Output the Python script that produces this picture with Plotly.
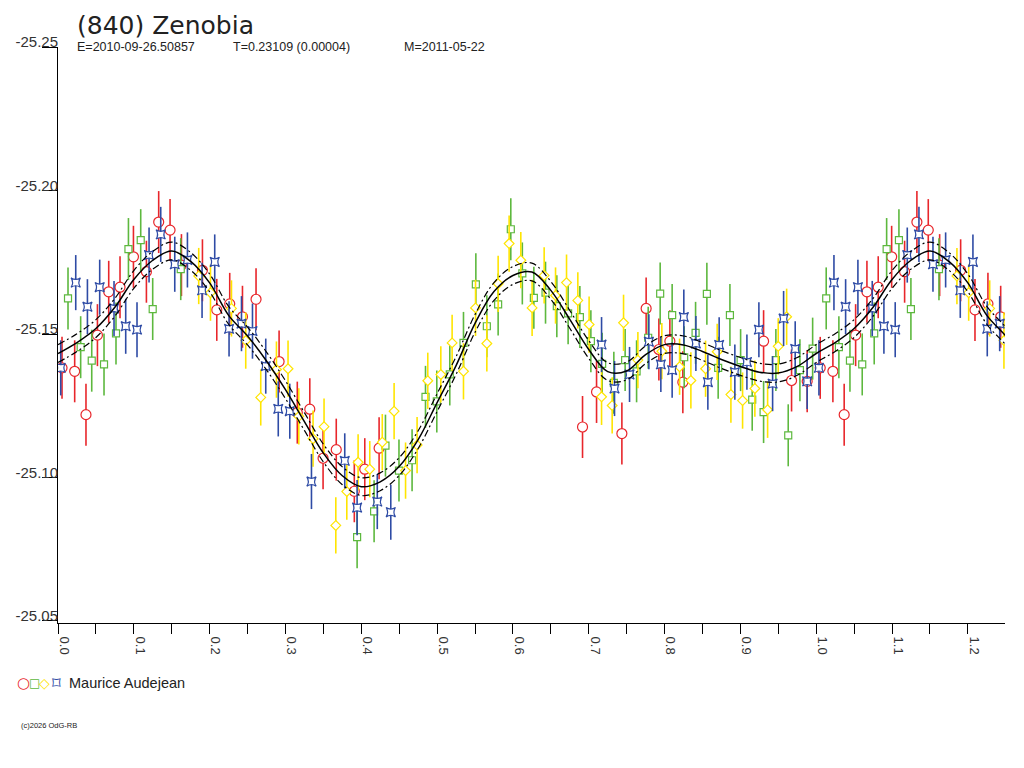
import plotly.graph_objects as go

# phase range shown (data from phase 0..0.25 is repeated after 1.0)
X_MAX = 1.249

# fitted lightcurve, every 0.025 in phase
CURVE_PHASE = [0.000, 0.025, 0.050, 0.075, 0.100, 0.125, 0.150, 0.175, 0.200, 0.225,
               0.250, 0.275, 0.300, 0.325, 0.350, 0.375, 0.400, 0.425, 0.450, 0.475,
               0.500, 0.525, 0.550, 0.575, 0.600, 0.625, 0.650, 0.675, 0.700, 0.725,
               0.750, 0.775, 0.800, 0.825, 0.850, 0.875, 0.900, 0.925, 0.950, 0.975, 1.000]
CURVE_MAG = [-25.1432, -25.1470, -25.1519, -25.1593, -25.1690, -25.1757, -25.1789, -25.1753,
             -25.1678, -25.1565, -25.1493, -25.1406, -25.1306, -25.1195, -25.1085, -25.1006,
             -25.0968, -25.0985, -25.1038, -25.1132, -25.1261, -25.1390, -25.1537, -25.1648,
             -25.1704, -25.1716, -25.1652, -25.1551, -25.1446, -25.1369, -25.1371, -25.1428,
             -25.1463, -25.1462, -25.1439, -25.1411, -25.1387, -25.1367, -25.1364, -25.1387,
             -25.1432]
BAND = 0.0031  # half width of the dash-dot envelope

RED_PHASE = [0.0053, 0.0220, 0.0369, 0.0520, 0.0669, 0.0818, 0.0995, 0.1166, 0.1328, 0.1478,
             0.1628, 0.1905, 0.2094, 0.2265, 0.2433, 0.2612, 0.2916, 0.3156, 0.3321, 0.3496,
             0.3670, 0.3908, 0.4046, 0.4235, 0.6918, 0.7103, 0.7437, 0.7757, 0.7925, 0.8070,
             0.8241, 0.9306, 0.9675, 0.9881]
RED_MAG = [-25.1382, -25.1370, -25.1219, -25.1496, -25.1647, -25.1663, -25.1769, -25.1717,
           -25.1890, -25.1862, -25.1740, -25.1722, -25.1584, -25.1605, -25.1560, -25.1621,
           -25.1404, -25.1226, -25.1238, -25.1067, -25.1097, -25.0952, -25.1029, -25.1102,
           -25.1176, -25.1298, -25.1153, -25.1589, -25.1446, -25.1475, -25.1332, -25.1475,
           -25.1338, -25.1335]
RED_ERR = 0.0108

GREEN_PHASE = [0.0132, 0.0299, 0.0445, 0.0607, 0.0765, 0.0929, 0.1091, 0.1249, 0.1619, 0.3945,
               0.4169, 0.4319, 0.4497, 0.4670, 0.4847, 0.4996, 0.5167, 0.5348, 0.5511, 0.5656,
               0.5805, 0.5972, 0.6124, 0.6276, 0.6430, 0.6579, 0.6728, 0.6883, 0.7028, 0.7177,
               0.7331, 0.7480, 0.7631, 0.7784, 0.7942, 0.8100, 0.8259, 0.8409, 0.8558, 0.8707,
               0.8862, 0.9003, 0.9156, 0.9306, 0.9468, 0.9631, 0.9785, 0.9953]
GREEN_MAG = [-25.1624, -25.1454, -25.1407, -25.1394, -25.1502, -25.1796, -25.1827, -25.1587,
             -25.1726, -25.0792, -25.0882, -25.1111, -25.1024, -25.1060, -25.1281, -25.1265,
             -25.1359, -25.1469, -25.1673, -25.1527, -25.1603, -25.1865, -25.1711, -25.1626,
             -25.1644, -25.1597, -25.1572, -25.1559, -25.1475, -25.1396, -25.1330, -25.1409,
             -25.1370, -25.1487, -25.1641, -25.1566, -25.1419, -25.1504, -25.1640, -25.1382,
             -25.1566, -25.1409, -25.1271, -25.1228, -25.1409, -25.1147, -25.1374, -25.1449]
GREEN_ERR = 0.0108

YELLOW_PHASE = [0.1856, 0.2011, 0.2288, 0.2476, 0.2674, 0.2881, 0.3034, 0.3176, 0.3364, 0.3509,
                0.3664, 0.3809, 0.3958, 0.4112, 0.4277, 0.4433, 0.4584, 0.4736, 0.4877, 0.5049,
                0.5198, 0.5348, 0.5507, 0.5656, 0.5805, 0.5950, 0.6104, 0.6253, 0.6412, 0.6562,
                0.6707, 0.6856, 0.7005, 0.7169, 0.7309, 0.7459, 0.7648, 0.7964, 0.8198, 0.8347,
                0.8541, 0.8694, 0.8875, 0.9029, 0.9191, 0.9359, 0.9499, 0.9610]
YELLOW_MAG = [-25.1702, -25.1644, -25.1589, -25.1477, -25.1279, -25.1376, -25.1379, -25.1213,
              -25.1135, -25.1177, -25.0833, -25.0951, -25.1053, -25.1029, -25.1123, -25.1231,
              -25.1024, -25.1113, -25.1337, -25.1359, -25.1469, -25.1370, -25.1591, -25.1467,
              -25.1675, -25.1815, -25.1757, -25.1591, -25.1704, -25.1634, -25.1679, -25.1617,
              -25.1533, -25.1281, -25.1251, -25.1539, -25.1409, -25.1440, -25.1386, -25.1338,
              -25.1379, -25.1438, -25.1289, -25.1268, -25.1310, -25.1236, -25.1457, -25.1560]
YELLOW_ERR = 0.0098

BLUE_PHASE = [0.0036, 0.0234, 0.0388, 0.0550, 0.0739, 0.0893, 0.1042, 0.1201, 0.1355, 0.1540,
              0.1707, 0.1900, 0.2067, 0.2256, 0.2420, 0.2565, 0.2740, 0.2905, 0.3057, 0.3343,
              0.3782, 0.3945, 0.4211, 0.4389, 0.7169, 0.7340, 0.7538, 0.7793, 0.7951, 0.8100,
              0.8254, 0.8413, 0.8571, 0.8720, 0.8927, 0.9086, 0.9244, 0.9425, 0.9570, 0.9723,
              0.9881]
BLUE_MAG = [-25.1382, -25.1679, -25.1595, -25.1663, -25.1589, -25.1527, -25.1515, -25.1775,
            -25.1847, -25.1743, -25.1758, -25.1652, -25.1751, -25.1518, -25.1536, -25.1510,
            -25.1388, -25.1239, -25.1231, -25.0986, -25.1058, -25.0895, -25.0916, -25.0879,
            -25.1463, -25.1310, -25.1359, -25.1473, -25.1394, -25.1374, -25.1559, -25.1467,
            -25.1332, -25.1462, -25.1367, -25.1402, -25.1515, -25.1327, -25.1554, -25.1448,
            -25.1335]
BLUE_ERR = 0.0096

Y_TICKS = [-25.25, -25.20, -25.15, -25.10, -25.05]
Y_TICK_TEXT = ['-25.25', '-25.20', '-25.15', '-25.10', '-25.05']

TITLE = '(840) Zenobia'
SUB_E = 'E=2010-09-26.50857'
SUB_T = 'T=0.23109 (0.00004)'
SUB_M = 'M=2011-05-22'
OBSERVER = 'Maurice Audejean'
COPYRIGHT = '(c)2026 OdG-RB'

RED = '#E8262B'
GREEN = '#5DB83E'
YELLOW = '#FFE500'
BLUE = '#2E4BA5'
FONT = 'Liberation Sans, Arial, sans-serif'

# plot area in page pixels; the page body adds an 8px margin around the figure
L, R, T, B = 58, 1005, 47, 623
BODY = 8


def paper(x, y):
    return (x - L) / (R - L), (B - y) / (B - T)


def wrap(phase, mag):
    # repeat the start of the cycle past phase 1
    xs = list(phase) + [p + 1 for p in phase if p + 1 <= X_MAX]
    ys = list(mag) + [m for p, m in zip(phase, mag) if p + 1 <= X_MAX]
    return xs, ys


def curve(phase, mag):
    xs = list(phase) + [p + 1 for p in phase[1:] if p + 1 <= X_MAX + 0.03]
    ys = list(mag) + [m for p, m in zip(phase[1:], mag[1:]) if p + 1 <= X_MAX + 0.03]
    return xs, ys


fig = go.Figure()

series = [
    (RED_PHASE, RED_MAG, RED_ERR, RED, 'circle', 10),
    (GREEN_PHASE, GREEN_MAG, GREEN_ERR, GREEN, 'square', 7),
    (YELLOW_PHASE, YELLOW_MAG, YELLOW_ERR, YELLOW, 'diamond', 7.5),
    (BLUE_PHASE, BLUE_MAG, BLUE_ERR, BLUE, 'star-square', 8.5),
]
for ph, mg, err, col, sym, size in series:
    xs, ys = wrap(ph, mg)
    fig.add_trace(go.Scatter(
        x=xs, y=ys, mode='markers',
        marker=dict(symbol=sym, size=size, color='white', line=dict(color=col, width=1.2)),
        error_y=dict(type='constant', value=err, color=col, thickness=1.6, width=0),
        showlegend=False, hoverinfo='skip',
    ))

cx, cy = curve(CURVE_PHASE, CURVE_MAG)
fig.add_trace(go.Scatter(
    x=cx, y=[m - BAND for m in cy], mode='lines', line_shape='spline',
    line=dict(color='black', width=1.2, dash='7px,3px,2px,3px'), showlegend=False,
))
fig.add_trace(go.Scatter(
    x=cx, y=[m + BAND for m in cy], mode='lines', line_shape='spline',
    line=dict(color='black', width=1.2, dash='7px,3px,2px,3px'), showlegend=False,
))
fig.add_trace(go.Scatter(
    x=cx, y=cy, mode='lines', line_shape='spline',
    line=dict(color='black', width=1.5), showlegend=False,
))

annotations = []


def note(text, x, y, size, anchor='left', color='#222222', family=FONT):
    px, py = paper(x, y)
    annotations.append(dict(
        text=text, x=px, y=py, xref='paper', yref='paper', xanchor=anchor,
        yanchor='middle', showarrow=False, font=dict(size=size, color=color, family=family),
    ))


note(TITLE, 75, 25, 25, family='DejaVu Sans, sans-serif')
note(SUB_E, 75, 47, 12.5)
note(SUB_T, 231, 47, 12.5)
note(SUB_M, 402, 47, 12.5)
note('○', 23, 683, 15, 'center', RED, 'DejaVu Sans')
note('□', 34, 683, 12, 'center', GREEN, 'DejaVu Sans')
note('◇', 44, 683, 14, 'center', YELLOW, 'DejaVu Sans')
note('⌑', 56, 683, 17, 'center', BLUE, 'DejaVu Sans')
note(OBSERVER, 67, 683, 14.5)
note(COPYRIGHT, 19, 725, 7.5)

fig.update_layout(
    width=1024 - BODY, height=768 - BODY,
    margin=dict(l=L - BODY, r=1024 - R, t=T - BODY, b=768 - B, pad=0),
    paper_bgcolor='white', plot_bgcolor='white',
    font=dict(family=FONT, color='#333333'),
    annotations=annotations,
    xaxis=dict(
        range=[0, X_MAX], showgrid=False, zeroline=False, automargin=False,
        showline=True, linecolor='black', linewidth=1,
        ticks='outside', ticklen=10, tickcolor='black', tickwidth=1,
        tick0=0, dtick=0.1, tickformat='.1f', tickangle=90, ticklabelshift=6,
        tickfont=dict(size=13, color='#333333'),
        minor=dict(dtick=0.05, tick0=0, ticks='outside', ticklen=10, tickcolor='black'),
    ),
    yaxis=dict(
        range=[-25.0493, -25.25], showgrid=False, zeroline=False, automargin=False,
        showline=True, linecolor='black', linewidth=1,
        ticks='outside', ticklen=15, tickcolor='black', tickwidth=1,
        tickvals=Y_TICKS, ticktext=Y_TICK_TEXT,
        ticklabelposition='outside top', ticklabelstandoff=-4, ticklabelshift=-6,
        tickfont=dict(size=15, color='#333333'),
    ),
)

fig.write_html('out.html')
